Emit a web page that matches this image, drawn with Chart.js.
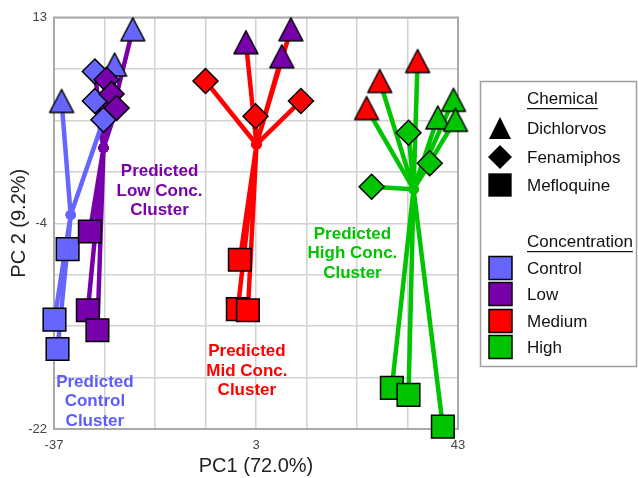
<!DOCTYPE html>
<html>
<head>
<meta charset="utf-8">
<script src="https://cdn.jsdelivr.net/npm/chart.js@4.4.0/dist/chart.umd.min.js"></script>
<style>
  html, body { margin: 0; padding: 0; background: #fff; }
  #wrap { width: 638px; height: 478px; }
</style>
</head>
<body>
<div id="wrap"><canvas id="chart"></canvas></div>
<script>
const concentrations = ['Control', 'Low', 'Medium', 'High'];
const chemicals = ['Dichlorvos', 'Fenamiphos', 'Mefloquine'];

// three replicates per chemical, same order for every concentration
const sampleChemical = ['Dichlorvos', 'Dichlorvos', 'Dichlorvos',
                        'Fenamiphos', 'Fenamiphos', 'Fenamiphos',
                        'Mefloquine', 'Mefloquine', 'Mefloquine'];

const controlPC1 = [-35.5, -25.0, -21.4, -28.9, -28.9, -27.2, -34.3, -36.9, -36.3];
const controlPC2 = [5.9, 9.0, 12.0, 8.4, 5.9, 4.3, -6.7, -12.7, -15.2];
const controlCluster = ['Control', 'Low', 'Low', 'Low', 'Low', 'Control', 'Control', 'Control', 'Control'];

const lowPC1 = [1.0, 9.9, 8.1, -26.6, -25.6, -24.6, -29.9, -30.3, -28.4];
const lowPC2 = [10.9, 12.0, 9.7, 7.7, 6.5, 5.3, -5.2, -11.9, -13.6];
const lowCluster = ['Medium', 'Medium', 'Medium', 'Low', 'Low', 'Low', 'Low', 'Low', 'Low'];

const mediumPC1 = [35.0, 27.5, 24.9, -7.0, 2.9, 11.9, -0.2, -0.6, 1.4];
const mediumPC2 = [9.3, 7.6, 5.3, 7.6, 4.6, 5.9, -7.6, -11.8, -11.9];
const mediumCluster = ['High', 'High', 'High', 'Medium', 'Medium', 'Medium', 'Medium', 'Medium', 'Medium'];

const highPC1 = [42.1, 39.0, 42.5, 25.9, 33.2, 37.4, 29.9, 33.2, 40.0];
const highPC2 = [6.0, 4.5, 4.3, -1.4, 3.2, 0.6, -18.5, -19.1, -21.8];
const highCluster = ['High', 'High', 'High', 'High', 'High', 'High', 'High', 'High', 'High'];

// predicted cluster centres, same order as concentrations
const centroidPC1 = [-33.7, -27.2, 3.1, 34.2];
const centroidPC2 = [-3.8, 1.9, 2.2, -1.6];

const clusterText = [
    ['Predicted', 'Control', 'Cluster'],
    ['Predicted', 'Low Conc.', 'Cluster'],
    ['Predicted', 'Mid Conc.', 'Cluster'],
    ['Predicted', 'High Conc.', 'Cluster']
];

const xTicks = [-37, -27, -17, -7, 3, 13, 23, 33, 43];
const xTickLabels = ['-37', '', '', '', '3', '', '', '', '43'];
const yTicks = [-22, -17.625, -13.25, -8.875, -4.5, -0.125, 4.25, 8.625, 13];
const yTickLabels = ['-22', '', '', '', '-4', '', '', '', '13'];

// styles
const concColors = ['#6666ff', '#7700aa', '#ff0000', '#00c400'];
const textColors = ['#5c5cff', '#7a00aa', '#ff0000', '#00c400'];
const chemStyle = { Dichlorvos: 'triangle', Fenamiphos: 'rectRot', Mefloquine: 'rect' };
const chemRadius = { Dichlorvos: 13.5, Fenamiphos: 12.5, Mefloquine: 16 };
// where the cluster captions sit (data coords of first line centre)
const captionAt = [[-28.9, -18.0], [-16.1, -0.1], [1.2, -15.4], [22.1, -5.4]];
const FONT = '"Liberation Sans", Arial, sans-serif';

// the triangles are as tall as they are wide, so draw them as small images
function triangleImage(fill, stroke, w, h, lw) {
    const c = document.createElement('canvas');
    c.width = w + 6;
    c.height = h + 6;
    const g = c.getContext('2d');
    g.beginPath();
    g.moveTo(c.width / 2, 3);
    g.lineTo(3 + w, 3 + h);
    g.lineTo(3, 3 + h);
    g.closePath();
    g.fillStyle = fill;
    g.fill();
    if (lw > 0) {
        g.lineJoin = 'round';
        g.lineWidth = lw;
        g.strokeStyle = stroke;
        g.stroke();
    }
    return c;
}
const triangleImages = concColors.map(col => triangleImage(col, '#000', 24, 23, 1.5));

const groups = [
    { pc1: controlPC1, pc2: controlPC2, cluster: controlCluster },
    { pc1: lowPC1, pc2: lowPC2, cluster: lowCluster },
    { pc1: mediumPC1, pc2: mediumPC2, cluster: mediumCluster },
    { pc1: highPC1, pc2: highPC2, cluster: highCluster }
];

function clusterLine(k) {
    const pts = [];
    const centre = () => ({ x: centroidPC1[k], y: centroidPC2[k], centre: true });
    pts.push(centre());
    groups.forEach(g => g.pc1.forEach((x, i) => {
        if (g.cluster[i] === concentrations[k]) {
            pts.push({ x: x, y: g.pc2[i] });
            pts.push(centre());
        }
    }));
    return pts;
}

const datasets = [];
// markers; Low drawn over Control
const markerOrder = [1, 0, 2, 3];
groups.forEach((g, k) => {
    datasets.push({
        label: concentrations[k],
        data: g.pc1.map((x, i) => ({ x: x, y: g.pc2[i] })),
        order: markerOrder[k],
        clip: false,
        backgroundColor: concColors[k],
        borderColor: '#000',
        borderWidth: 1.5,
        pointStyle: c => {
            const chem = sampleChemical[c.dataIndex];
            return chem === 'Dichlorvos' ? triangleImages[k] : chemStyle[chem];
        },
        pointRadius: c => chemRadius[sampleChemical[c.dataIndex]],
        showLine: false
    });
});
// star lines from each centre
concentrations.forEach((name, k) => {
    datasets.push({
        label: name + ' cluster',
        data: clusterLine(k),
        order: 10 + k,
        clip: false,
        showLine: true,
        borderColor: concColors[k],
        borderWidth: 4.5,
        borderJoinStyle: 'round',
        borderCapStyle: 'round',
        backgroundColor: concColors[k],
        pointBorderWidth: 0,
        pointStyle: 'circle',
        pointRadius: c => (c.raw && c.raw.centre ? 5 : 0)
    });
});

const extras = {
    id: 'extras',
    beforeDatasetsDraw(chart) {
        const a = chart.chartArea;
        const ctx = chart.ctx;
        ctx.save();
        ctx.strokeStyle = '#a9a9a9';
        ctx.lineWidth = 2;
        ctx.strokeRect(a.left, a.top, a.right - a.left, a.bottom - a.top);
        ctx.restore();
    },
    afterDraw(chart) {
        const ctx = chart.ctx;
        const xs = chart.scales.x, ys = chart.scales.y;
        ctx.save();
        // cluster captions
        ctx.font = 'bold 17px ' + FONT;
        ctx.textAlign = 'center';
        ctx.textBaseline = 'middle';
        clusterText.forEach((lines, k) => {
            const px = xs.getPixelForValue(captionAt[k][0]);
            const py = ys.getPixelForValue(captionAt[k][1]);
            ctx.fillStyle = textColors[k];
            lines.forEach((t, j) => ctx.fillText(t, px, py + j * 19.5));
        });

        // legend box
        ctx.strokeStyle = '#a0a0a0';
        ctx.lineWidth = 1.5;
        ctx.strokeRect(480.5, 81.5, 156, 285);
        ctx.font = '17px ' + FONT;
        ctx.textAlign = 'left';
        ctx.fillStyle = '#111';
        const underline = (t, x, y) => {
            ctx.fillText(t, x, y);
            const w = ctx.measureText(t).width;
            ctx.fillRect(x, y + 9, w, 1.2);
        };
        underline('Chemical', 527, 99);
        const chemY = [128, 157, 185];
        const blackTriangle = triangleImage('#000', '#000', 22, 22, 0);
        chemicals.forEach((c, i) => {
            if (chemStyle[c] === 'triangle') {
                ctx.drawImage(blackTriangle, 500 - blackTriangle.width / 2, chemY[i] - blackTriangle.height / 2);
            } else {
                ctx.fillStyle = '#000';
                Chart.helpers.drawPoint(ctx, {
                    pointStyle: chemStyle[c], rotation: 0,
                    radius: chemStyle[c] === 'rect' ? 16.5 : 12,
                    borderWidth: 0
                }, 500, chemY[i]);
            }
            ctx.fillStyle = '#111';
            ctx.fillText(c, 527, chemY[i] + 1);
        });
        underline('Concentration', 527, 242);
        const concY = [268, 294, 321, 347];
        concentrations.forEach((c, i) => {
            ctx.fillStyle = concColors[i];
            ctx.fillRect(489, concY[i] - 11.5, 23, 23);
            ctx.strokeStyle = '#000';
            ctx.lineWidth = 1.5;
            ctx.strokeRect(489, concY[i] - 11.5, 23, 23);
            ctx.fillStyle = '#111';
            ctx.fillText(c, 527, concY[i] + 1);
        });
        ctx.restore();
    }
};

new Chart(document.getElementById('chart'), {
    type: 'scatter',
    data: { datasets: datasets },
    options: {
        responsive: true,
        maintainAspectRatio: false,
        animation: false,
        layout: { padding: { top: 16, right: 180, left: 0, bottom: 0 } },
        plugins: { legend: { display: false }, tooltip: { enabled: false } },
        scales: {
            x: {
                type: 'linear',
                min: -37, max: 43,
                afterBuildTicks: s => { s.ticks = xTicks.map(v => ({ value: v })); },
                afterFit: s => { s.height = 49; },
                grid: { color: '#d2d2d2', lineWidth: 1.5, drawTicks: false },
                border: { display: false },
                ticks: {
                    autoSkip: false, maxRotation: 0, padding: 9,
                    color: '#444', font: { family: FONT, size: 13 },
                    callback: (v, i) => xTickLabels[i]
                },
                title: {
                    display: true, text: 'PC1 (72.0%)', color: '#222',
                    font: { family: FONT, size: 20 }, padding: { top: 0, bottom: 0 }
                }
            },
            y: {
                type: 'linear',
                min: -22, max: 13,
                afterBuildTicks: s => { s.ticks = yTicks.map(v => ({ value: v })); },
                afterFit: s => { s.width = 54; },
                grid: { color: '#d2d2d2', lineWidth: 1.5, drawTicks: false },
                border: { display: false },
                ticks: {
                    autoSkip: false, padding: 7,
                    color: '#444', font: { family: FONT, size: 13 },
                    callback: (v, i) => yTickLabels[i]
                },
                title: {
                    display: true, text: 'PC 2 (9.2%)', color: '#222',
                    font: { family: FONT, size: 20 }, padding: { top: 7, bottom: 0 }
                }
            }
        }
    },
    plugins: [extras]
});
</script>
</body>
</html>
